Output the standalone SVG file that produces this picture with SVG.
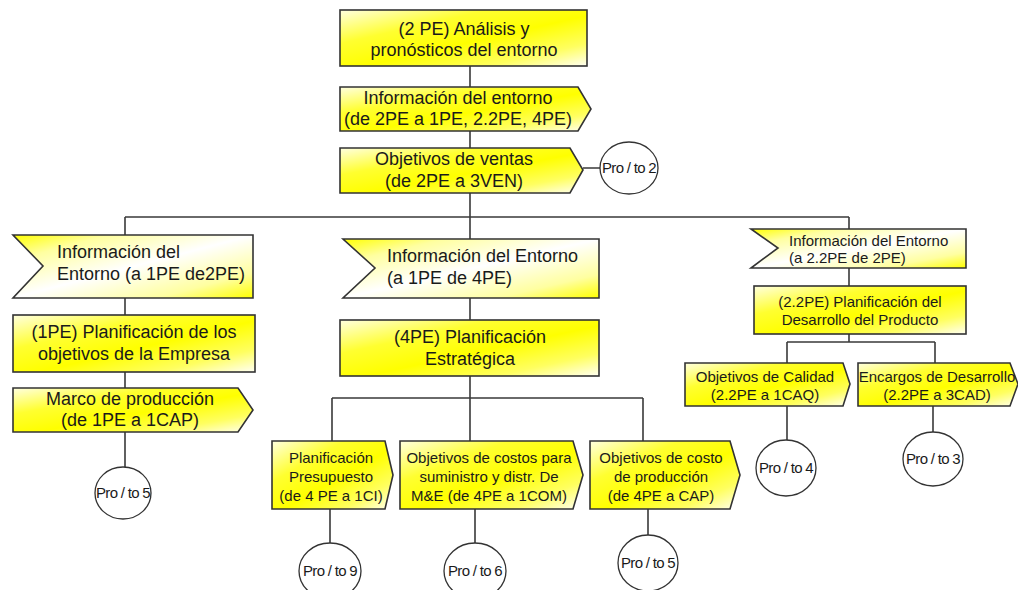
<svg xmlns="http://www.w3.org/2000/svg" width="1018" height="590" viewBox="0 0 1018 590">
<defs>
<linearGradient id="gA" x1="0" y1="0" x2="1" y2="1">
<stop offset="0" stop-color="#ffffe0"/>
<stop offset="0.3" stop-color="#ffff30"/>
<stop offset="0.55" stop-color="#ffff00"/>
<stop offset="0.8" stop-color="#ffff60"/>
<stop offset="1" stop-color="#fffff4"/>
</linearGradient>
<linearGradient id="gB" x1="0" y1="0" x2="1" y2="1">
<stop offset="0" stop-color="#ffff00"/>
<stop offset="0.2" stop-color="#ffffa0"/>
<stop offset="0.5" stop-color="#ffffff"/>
<stop offset="0.8" stop-color="#ffffa0"/>
<stop offset="1" stop-color="#ffff00"/>
</linearGradient>
</defs>
<style>
.box{fill:url(#gA);stroke:#333;stroke-width:1.6}
.ev{fill:url(#gB);stroke:#333;stroke-width:1.6}
.pr{fill:#fff;stroke:#333;stroke-width:1.3}
.ln{fill:none;stroke:#3a3a3a;stroke-width:1.6}
text{font-family:"Liberation Sans",Arial,sans-serif;fill:#1a1a1a}
.t18{font-size:18px}
.t15{font-size:15px}
.t13{font-size:15px;letter-spacing:-0.7px}
.c{text-anchor:middle}
</style>
<g id="connectors">
<path class="ln" d="M470,66V87M470,131V148M470,193V217M125,217H849M125,217V235M849,217V229M125,298V315M125,372V388M125,432V467M470,217V239M470,298V320M470,376V398M332,398H643M332,398V441M470,398V441M643,398V441M330,509V543M475,509V543M648,509V535M849,268V286M849,334V342M787,342H935M787,342V363M935,342V363M787,406V440M933,406V432M583,168H600"/>
</g>
<g id="n_2pe">
<rect class="box" x="340" y="10" width="247" height="56"/>
<text class="t18 c" x="464" y="35">(2 PE) Análisis y</text>
<text class="t18 c" x="464" y="56">pronósticos del entorno</text>
</g>
<g id="n_info_entorno">
<polygon class="box" points="340,87 578,87 591,109 578,131 340,131"/>
<text class="t18 c" x="458" y="104">Información del entorno</text>
<text class="t18 c" x="458" y="125">(de 2PE a 1PE, 2.2PE, 4PE)</text>
</g>
<g id="n_obj_ventas">
<polygon class="box" points="340,148 570,148 583,170 570,193 340,193"/>
<text class="t18 c" x="454" y="165">Objetivos de ventas</text>
<text class="t18 c" x="454" y="187">(de 2PE a 3VEN)</text>
</g>
<g id="p_to2">
<ellipse class="pr" cx="629" cy="168" rx="29" ry="26"/>
<text class="t13 c" x="629" y="173">Pro / to 2</text>
</g>
<g id="n_info_1pe">
<polygon class="ev" points="13,235 253,235 253,298 13,298 43,266"/>
<text class="t18" x="57" y="258">Información del</text>
<text class="t18" x="57" y="280">Entorno (a 1PE de2PE)</text>
</g>
<g id="n_1pe">
<rect class="box" x="13" y="315" width="242" height="57"/>
<text class="t18 c" x="134" y="338">(1PE) Planificación de los</text>
<text class="t18 c" x="134" y="360">objetivos de la Empresa</text>
</g>
<g id="n_marco">
<polygon class="box" points="13,388 238,388 253,410 238,432 13,432"/>
<text class="t18 c" x="130" y="405">Marco de producción</text>
<text class="t18 c" x="130" y="426">(de 1PE a 1CAP)</text>
</g>
<g id="p_to5a">
<ellipse class="pr" cx="123" cy="493" rx="28" ry="26"/>
<text class="t13 c" x="123" y="498">Pro / to 5</text>
</g>
<g id="n_info_4pe">
<polygon class="ev" points="343,239 599,239 599,298 343,298 375,268"/>
<text class="t18" x="387" y="262">Información del Entorno</text>
<text class="t18" x="387" y="284">(a 1PE de 4PE)</text>
</g>
<g id="n_4pe">
<rect class="box" x="340" y="320" width="259" height="56"/>
<text class="t18 c" x="470" y="343">(4PE) Planificación</text>
<text class="t18 c" x="470" y="365">Estratégica</text>
</g>
<g id="n_presupuesto">
<polygon class="box" points="272,441 385,441 393,475 385,509 272,509"/>
<text class="t15 c" x="331" y="463">Planificación</text>
<text class="t15 c" x="331" y="482">Presupuesto</text>
<text class="t15 c" x="331" y="501">(de 4 PE a 1CI)</text>
</g>
<g id="n_costos_me">
<polygon class="box" points="400,441 573,441 583,475 573,509 400,509"/>
<text class="t15 c" x="489" y="463">Objetivos de costos para</text>
<text class="t15 c" x="489" y="482">suministro y distr. De</text>
<text class="t15 c" x="489" y="501">M&amp;E (de 4PE a 1COM)</text>
</g>
<g id="n_costo_prod">
<polygon class="box" points="590,441 730,441 740,475 730,509 590,509"/>
<text class="t15 c" x="661" y="463">Objetivos de costo</text>
<text class="t15 c" x="661" y="482">de producción</text>
<text class="t15 c" x="661" y="501">(de 4PE a CAP)</text>
</g>
<g id="p_to9">
<ellipse class="pr" cx="330" cy="571" rx="31" ry="28"/>
<text class="t13 c" x="330" y="576">Pro / to 9</text>
</g>
<g id="p_to6">
<ellipse class="pr" cx="475" cy="571" rx="31" ry="28"/>
<text class="t13 c" x="475" y="576">Pro / to 6</text>
</g>
<g id="p_to5b">
<ellipse class="pr" cx="648" cy="563" rx="30" ry="28"/>
<text class="t13 c" x="648" y="568">Pro / to 5</text>
</g>
<g id="n_info_22pe">
<polygon class="ev" points="751,229 966,229 966,268 751,268 778,248"/>
<text class="t15" x="789" y="246">Información del Entorno</text>
<text class="t15" x="789" y="263">(a 2.2PE de 2PE)</text>
</g>
<g id="n_22pe">
<rect class="box" x="754" y="286" width="212" height="48"/>
<text class="t15 c" x="860" y="307">(2.2PE) Planificación del</text>
<text class="t15 c" x="860" y="325">Desarrollo del Producto</text>
</g>
<g id="n_calidad">
<polygon class="box" points="685,363 843,363 850,384 843,406 685,406"/>
<text class="t15 c" x="765" y="382">Objetivos de Calidad</text>
<text class="t15 c" x="765" y="400">(2.2PE a 1CAQ)</text>
</g>
<g id="n_encargos">
<polygon class="box" points="858,363 1010,363 1018,384 1010,406 858,406"/>
<text class="t15 c" x="937" y="382">Encargos de Desarrollo</text>
<text class="t15 c" x="937" y="400">(2.2PE a 3CAD)</text>
</g>
<g id="p_to4">
<ellipse class="pr" cx="786" cy="468" rx="30" ry="28"/>
<text class="t13 c" x="786" y="473">Pro / to 4</text>
</g>
<g id="p_to3">
<ellipse class="pr" cx="933" cy="459" rx="30" ry="27"/>
<text class="t13 c" x="933" y="464">Pro / to 3</text>
</g>
</svg>
